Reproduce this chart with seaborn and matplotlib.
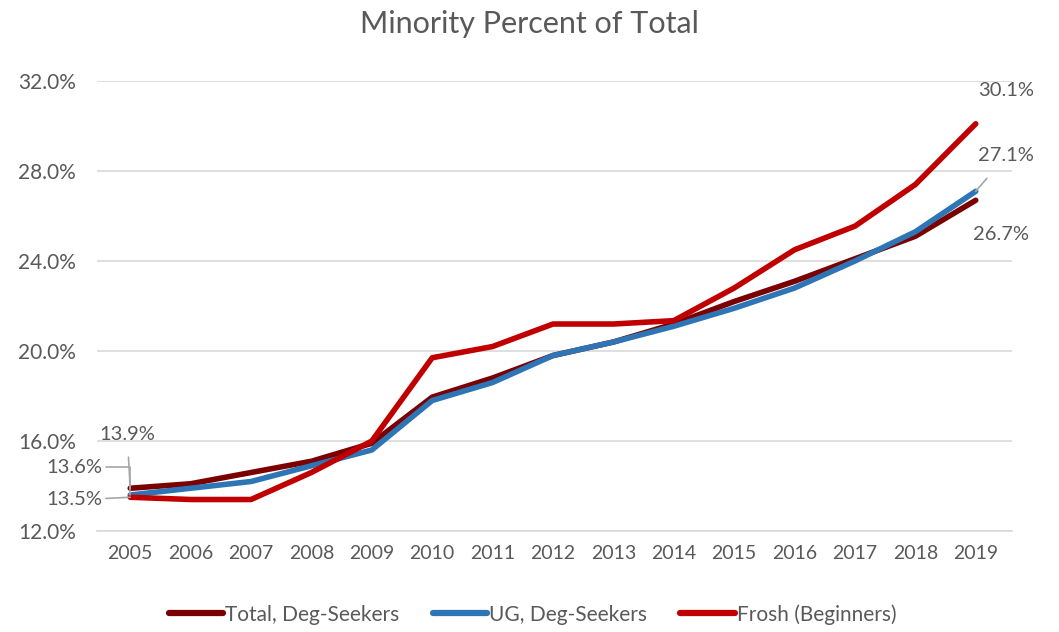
import matplotlib
matplotlib.use("Agg")
import matplotlib.pyplot as plt
import seaborn as sns
import pandas as pd
from matplotlib.ticker import FuncFormatter

years = list(range(2005, 2020))
total_deg = [13.9, 14.1, 14.6, 15.1, 15.9, 17.95, 18.8, 19.8, 20.4, 21.2, 22.2, 23.1, 24.1, 25.1, 26.7]
ug_deg = [13.6, 13.9, 14.2, 14.9, 15.6, 17.8, 18.6, 19.8, 20.4, 21.1, 21.9, 22.8, 24.0, 25.3, 27.1]
frosh = [13.5, 13.4, 13.4, 14.6, 16.0, 19.7, 20.2, 21.2, 21.2, 21.35, 22.8, 24.5, 25.55, 27.4, 30.1]
series_names = ["Total, Deg-Seekers", "UG, Deg-Seekers", "Frosh (Beginners)"]
colors = ["#7B0000", "#2E75B6", "#C00000"]

df = pd.DataFrame({
    "Year": years * 3,
    "Pct": total_deg + ug_deg + frosh,
    "Series": [series_names[0]] * 15 + [series_names[1]] * 15 + [series_names[2]] * 15,
})

sns.set_theme(style="white")
plt.rcParams['font.family'] = ['Lato', 'DejaVu Sans']
grey = "#595959"

fig = plt.figure(figsize=(10.59, 6.32), dpi=100)
ax = fig.add_axes([0.0916, 0.1598, 0.864, 0.712])

sns.lineplot(data=df, x="Year", y="Pct", hue="Series", palette=colors,
             hue_order=series_names, linewidth=4, ax=ax, legend=False)

ax.set_xlim(2004.45, 2019.6)
ax.set_ylim(12, 32)
ax.set_yticks([12, 16, 20, 24, 28, 32])
ax.yaxis.set_major_formatter(FuncFormatter(lambda v, p: f"{v:.1f}%"))
ax.set_xticks(years)
ax.grid(axis="y", color="#D9D9D9", linewidth=1.2)
ax.set_axisbelow(True)
for s in ["top", "right", "left"]:
    ax.spines[s].set_visible(False)
ax.spines["bottom"].set_color("#D9D9D9")
ax.spines["bottom"].set_linewidth(1.2)
ax.tick_params(axis="both", colors=grey, length=0)
ax.tick_params(axis="x", labelsize=14, pad=10)
ax.tick_params(axis="y", labelsize=15, pad=15)
ax.set_xlabel("")
ax.set_ylabel("")

fig.text(0.5, 0.962, "Minority Percent of Total", fontsize=22, color=grey,
         ha="center", va="center")

# data labels
lc = "#A6A6A6"
kw = dict(fontsize=14.5, color=grey, ha="center", va="center", annotation_clip=False)
ax.annotate("13.9%", xy=(2005, total_deg[0]), xytext=(2004.95, 16.3),
            arrowprops=dict(arrowstyle="-", color=lc, lw=1.2, shrinkA=8, shrinkB=0), **kw)
ax.annotate("13.6%", xy=(2005, ug_deg[0]), xytext=(2004.08, 14.84),
            arrowprops=dict(arrowstyle="-", color=lc, lw=1.2, shrinkA=0, shrinkB=0,
                            connectionstyle="angle,angleA=0,angleB=90,rad=0"), **kw)
ax.annotate("13.5%", xy=(2005, frosh[0]), xytext=(2004.08, 13.38),
            arrowprops=dict(arrowstyle="-", color=lc, lw=1.2, shrinkA=26, shrinkB=0), **kw)
ax.annotate("30.1%", xy=(2019, frosh[-1]), xytext=(2019.5, 31.56), **kw)
ax.annotate("27.1%", xy=(2019, ug_deg[-1]), xytext=(2019.5, 28.67),
            arrowprops=dict(arrowstyle="-", color=lc, lw=1.2, shrinkA=10, shrinkB=0), **kw)
ax.annotate("26.7%", xy=(2019, total_deg[-1]), xytext=(2019.42, 25.2), **kw)

handles = [plt.Line2D([0], [0], color=c, lw=4.5, solid_capstyle="round") for c in colors]
leg = fig.legend(handles, series_names, loc="center", bbox_to_anchor=(0.503, 0.028),
                 ncol=3, frameon=False, fontsize=15, handlelength=2.6,
                 handletextpad=0.1, columnspacing=1.6)
for t in leg.get_texts():
    t.set_color(grey)

fig.savefig("out.png", dpi=100)
